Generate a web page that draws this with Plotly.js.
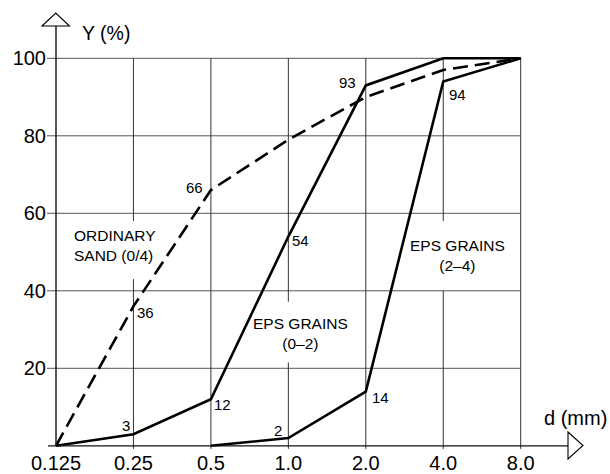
<!DOCTYPE html>
<html><head><meta charset="utf-8">
<script src="https://cdn.plot.ly/plotly-3.0.1.min.js"></script>
<style>html,body{margin:0;padding:0;background:#fff}#chart{width:610px;height:474px}</style>
</head><body><div id="chart"></div>
<script>
// ---- data ----
const sizes = [0.125, 0.25, 0.5, 1.0, 2.0, 4.0, 8.0];
const sizeLabels = ["0.125", "0.25", "0.5", "1.0", "2.0", "4.0", "8.0"];
const ordinarySand = [0, 36, 66, 79, 90, 97, 100];
const epsGrains02 = [0, 3, 12, 54, 93, 100, 100];
const epsGrains24 = [null, null, 0, 2, 14, 94, 100];
const yTicks = [20, 40, 60, 80, 100];
const yTickLabels = ["20", "40", "60", "80", "100"];
const curveLabels = ["ORDINARY<br>SAND (0/4)", "EPS GRAINS<br>(0–2)", "EPS GRAINS<br>(2–4)"];
const axisTitles = {x: "d (mm)", y: "Y (%)"};

// ---- layout geometry (style) ----
const W = 610, H = 474, L = 48, R = 80, T = 50, B = 25;
const PW = W - L - R, PH = H - T - B;
const px2px = p => (p - L) / PW;      // pixel -> paper x
const py2py = p => (H - B - p) / PH;  // pixel -> paper y
const FONT = "Liberation Sans, Arial, Helvetica, sans-serif";

const series = [ordinarySand, epsGrains02, epsGrains24];
const lineStyles = [
  {color: "#000", width: 2.6, dash: "15px,7px"},
  {color: "#000", width: 2.6, dash: "solid"},
  {color: "#000", width: 2.6, dash: "solid"}
];
const traces = series.map((vals, i) => ({
  x: sizes, y: vals, type: "scatter", mode: "lines",
  line: lineStyles[i], connectgaps: false, hoverinfo: "skip", showlegend: false
}));

// value labels: [series index, point index, xshift, yshift]
const valueLabelPlaces = [
  [0, 1, 12.5, -5.7], [0, 2, -16, 3],
  [1, 1, -7.5, 9], [1, 2, 12, -4.7], [1, 3, 12.6, -3.5], [1, 4, -18, 3.4],
  [2, 3, -10, 8], [2, 4, 15, -5.5], [2, 5, 14, -12.5]
];
const annotations = valueLabelPlaces.map(([s, k, dx, dy]) => ({
  x: Math.log10(sizes[k]), y: series[s][k], xref: "x", yref: "y",
  text: String(series[s][k]), showarrow: false, xshift: dx, yshift: dy,
  font: {family: FONT, size: 15, color: "#000"}
}));

// curve name labels (positions in data coords)
const curvePlaces = [
  {x: 0.1443, y: 51.6, anchor: "left", align: "left"},
  {x: 1.11, y: 28.9, anchor: "center", align: "center"},
  {x: 4.545, y: 49.1, anchor: "center", align: "center"}
];
curvePlaces.forEach((p, i) => annotations.push({
  x: Math.log10(p.x), y: p.y, xref: "x", yref: "y", text: curveLabels[i],
  showarrow: false, xanchor: p.anchor, yanchor: "middle", align: p.align,
  font: {family: FONT, size: 15.5, color: "#000"}
}));

annotations.push({x: px2px(80), y: py2py(33), xref: "paper", yref: "paper", text: axisTitles.y,
  showarrow: false, xanchor: "left", yanchor: "middle", font: {family: FONT, size: 19.5, color: "#000"}});
annotations.push({x: px2px(542), y: py2py(418), xref: "paper", yref: "paper", text: axisTitles.x,
  showarrow: false, xanchor: "left", yanchor: "middle", font: {family: FONT, size: 20, color: "#000"}});

// ---- shapes: grid, axes, arrows ----
const shapes = [];
const gridGaps = {0.25: [[43, 58]], 1: [[21.5, 37.2]], 4: [[40, 58]]};
sizes.slice(1).forEach(v => {
  const gaps = gridGaps[v] || [];
  let start = -0.8;
  const segs = [];
  gaps.forEach(g => { segs.push([start, g[0]]); start = g[1]; });
  segs.push([start, 100]);
  segs.forEach(sg => shapes.push({type: "line", xref: "x", yref: "y", layer: "below",
    x0: v, x1: v, y0: sg[0], y1: sg[1], line: {color: "#333", width: 1}}));
});
yTicks.forEach(v => shapes.push({type: "line", xref: "paper", yref: "y", layer: "below",
  x0: px2px(47), x1: px2px(520.7), y0: v, y1: v, line: {color: "#555", width: 1}}));
// x axis line
shapes.push({type: "line", xref: "paper", yref: "y", x0: px2px(48), x1: px2px(568), y0: 0, y1: 0,
  line: {color: "#111", width: 1.2}});
// y axis line
shapes.push({type: "line", xref: "paper", yref: "paper", x0: px2px(56), x1: px2px(56),
  y0: py2py(445.8), y1: py2py(26), line: {color: "#111", width: 1.4}});
// arrowheads (open triangles)
const tri = (pts) => "M" + pts.map(p => px2px(p[0]) + "," + py2py(p[1])).join(" L") + " Z";
shapes.push({type: "path", xref: "paper", yref: "paper", path: tri([[42, 26], [55.8, 13], [69.5, 26]]),
  line: {color: "#000", width: 1.1}, fillcolor: "#fff"});
shapes.push({type: "path", xref: "paper", yref: "paper", path: tri([[568, 432], [583, 445.5], [568, 459]]),
  line: {color: "#000", width: 1.1}, fillcolor: "#fff"});

const LOG_PX = 77.45 / Math.log10(2);
const layout = {
  width: W, height: H,
  margin: {l: L, r: R, t: T, b: B, pad: 0},
  paper_bgcolor: "#fff", plot_bgcolor: "#fff",
  showlegend: false,
  xaxis: {
    type: "log",
    range: [Math.log10(0.125) - 8 / LOG_PX, Math.log10(0.125) + 474 / LOG_PX],
    tickvals: sizes, ticktext: sizeLabels, ticks: "", showgrid: false, zeroline: false, showline: false,
    tickfont: {family: FONT, size: 20, color: "#000"}, ticklabelstandoff: 0, fixedrange: true
  },
  yaxis: {
    range: [(445.8 - (H - B)) / 3.875, (445.8 - T) / 3.875],
    tickvals: yTicks, ticktext: yTickLabels, ticks: "", showgrid: false, zeroline: false, showline: false,
    tickfont: {family: FONT, size: 20, color: "#000"}, ticklabelstandoff: 1, fixedrange: true
  },
  shapes: shapes,
  annotations: annotations
};

Plotly.newPlot("chart", traces, layout, {staticPlot: true, displayModeBar: false});
</script>
</body></html>
